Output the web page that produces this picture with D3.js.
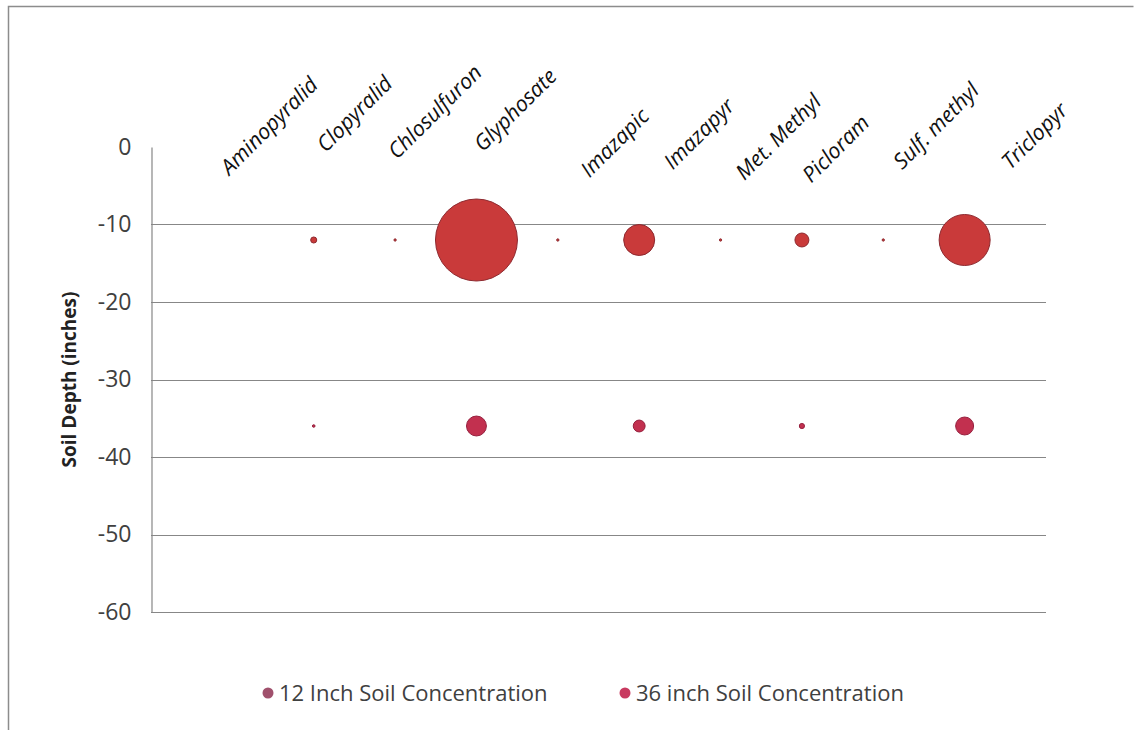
<!DOCTYPE html>
<html>
<head>
<meta charset="utf-8">
<script src="https://cdn.jsdelivr.net/npm/d3@7"></script>
<style>
  body { margin: 0; background: #fff; }
  svg text { font-family: "Open Sans", Lato, sans-serif; }
</style>
</head>
<body>
<script>
// herbicides along the top, bubbles sized by concentration
const categories = ["Aminopyralid", "Clopyralid", "Chlosulfuron", "Glyphosate", "Imazapic",
                    "Imazapyr", "Met. Methyl", "Picloram", "Sulf. methyl", "Triclopyr"]
const catIndex = [1, 2, 3, 4, 5, 6, 7, 8, 9, 10]
const depth12 = -12
const depth36 = -36
const conc12 = [0, 0.55, 0.08, 100, 0.08, 14.3, 0.08, 2.9, 0.08, 38.7]
const conc36 = [0, 0.1, 0, 5.9, 0, 2.1, 0, 0.4, 0, 4.8]
const yTicks = [0, -10, -20, -30, -40, -50, -60]
const seriesNames = ["12 Inch Soil Concentration", "36 inch Soil Concentration"]

// hand placed label nudges (layout only)
const labelDx = [38, 42, 41, 40, 58, 61, 59, 35, 54, 71]
const labelDy = [127, 115, 113, 111, 144, 135, 138, 150, 127, 137]

const W = 1145, H = 730
const svg = d3.select("body").append("svg")
    .attr("width", W)
    .attr("height", H)

// frame
svg.append("path")
    .attr("d", "M8.5,730 L8.5,6.5 L1133.5,6.5")
    .attr("fill", "none")
    .attr("stroke", "#8c8c8c")
    .attr("stroke-width", 1.5)

const x = d3.scaleLinear().domain([0, 11]).range([151, 1046])
const y = d3.scaleLinear().domain([-60, 0]).range([612, 147])
const r = d3.scaleSqrt().domain([0, 100]).range([0, 41])

// gridlines
svg.append("g")
    .selectAll("line")
    .data(yTicks.filter(d => d != 0))
    .enter()
    .append("line")
    .attr("x1", x(0))
    .attr("x2", x(11))
    .attr("y1", d => Math.round(y(d)) + 0.5)
    .attr("y2", d => Math.round(y(d)) + 0.5)
    .attr("stroke", "#878787")
    .attr("stroke-width", 1.2)

// y axis
const yAxis = d3.axisLeft(y).tickValues(yTicks).tickSize(0).tickPadding(20).tickFormat(d => String(d))
const ga = svg.append("g")
    .attr("transform", "translate(" + (x(0) + 0.5) + ",0)")
    .call(yAxis)
ga.select(".domain").attr("stroke", "#868686").attr("stroke-width", 1.2)
ga.selectAll("text")
    .attr("font-size", 23)
    .attr("fill", "#404040")
    .style("font-family", "'Open Sans', sans-serif")

svg.append("text")
    .attr("transform", "translate(76," + y(-30) + ") rotate(-90)")
    .attr("text-anchor", "middle")
    .attr("font-size", 19)
    .attr("font-weight", "bold")
    .attr("fill", "#222")
    .text("Soil Depth (inches)")

// category labels
svg.append("g")
    .selectAll("text")
    .data(categories)
    .enter()
    .append("text")
    .attr("transform", (d, i) => "translate(" + (x(catIndex[i]) + labelDx[i]) + "," + labelDy[i] + ") rotate(-45)")
    .attr("text-anchor", "middle")
    .attr("dominant-baseline", "middle")
    .attr("font-size", 21.5)
    .attr("font-style", "italic")
    .attr("fill", "#111")
    .text(d => d)

// bubbles
const b12 = categories.map((c, i) => ({ x: catIndex[i], y: depth12, v: conc12[i] })).filter(d => d.v > 0)
const b36 = categories.map((c, i) => ({ x: catIndex[i], y: depth36, v: conc36[i] })).filter(d => d.v > 0)

svg.append("g")
    .selectAll("circle")
    .data(b12)
    .enter()
    .append("circle")
    .attr("cx", d => x(d.x))
    .attr("cy", d => y(d.y))
    .attr("r", d => Math.max(r(d.v), 1))
    .attr("fill", "#c93a3a")
    .attr("stroke", "#8e2a30")
    .attr("stroke-width", 1)

svg.append("g")
    .selectAll("circle")
    .data(b36)
    .enter()
    .append("circle")
    .attr("cx", d => x(d.x))
    .attr("cy", d => y(d.y))
    .attr("r", d => Math.max(r(d.v), 1))
    .attr("fill", "#c2304f")
    .attr("stroke", "#96203e")
    .attr("stroke-width", 1)

// legend
const legX = [268, 625]
const legCol = ["#a0506c", "#c83a60"]
const leg = svg.append("g")
    .selectAll("g")
    .data(seriesNames)
    .enter()
    .append("g")
    .attr("transform", (d, i) => "translate(" + legX[i] + ",693)")
leg.append("circle")
    .attr("r", 5.5)
    .attr("fill", (d, i) => legCol[i])
leg.append("text")
    .attr("x", 11)
    .attr("dy", "0.35em")
    .attr("font-size", 22)
    .attr("fill", "#404040")
    .text(d => d)
</script>
</body>
</html>
